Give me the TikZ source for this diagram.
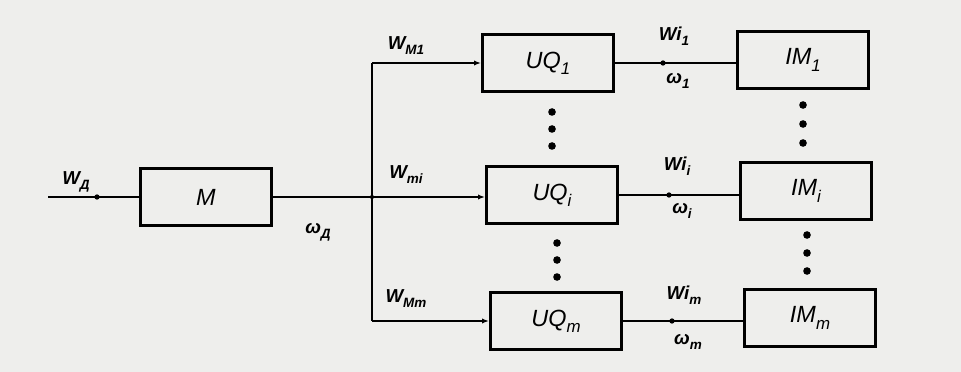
\documentclass[tikz,border=0pt]{standalone}
\usepackage{fontspec}
\setmainfont{Liberation Sans}
\usetikzlibrary{arrows.meta}
\definecolor{paper}{RGB}{238,238,236}
\newcommand{\lowidx}[1]{\raisebox{-0.5ex}{\scalebox{0.72}{#1}}}

\begin{document}
\begin{tikzpicture}[x=0.03cm,y=-0.03cm,font=\fontsize{16}{19}\selectfont\bfseries\itshape,
  >={Latex[length=6pt,width=4.5pt]},
  blockbox/.style={draw,line width=2.5pt,minimum width=3.93cm,minimum height=1.72cm,
    inner sep=0pt,font=\fontsize{20}{24}\selectfont\itshape},
  wire/.style={line width=1.5pt},
  tapdot/.style={circle,fill,inner sep=0pt,minimum size=4.5pt},
  gapdot/.style={circle,fill,inner sep=0pt,minimum size=6.5pt}]
\fill[paper] (0,0) rectangle (961,372);
\useasboundingbox (0,0) rectangle (961,372);
% blocks
\node[blockbox] (M) at (206,197) {M};
\node[blockbox] (UQ1) at (548,63) {UQ\lowidx{1}};
\node[blockbox] (UQi) at (552,195) {UQ\lowidx{i}};
\node[blockbox] (UQm) at (556,321) {UQ\lowidx{m}};
\node[blockbox] (IM1) at (803,60) {IM\lowidx{1}};
\node[blockbox] (IMi) at (806,191) {IM\lowidx{i}};
\node[blockbox] (IMm) at (810,318) {IM\lowidx{m}};
% input and bus
\coordinate (in) at (48,197);
\coordinate (bus) at (372,197);
\draw[wire] (in) -- (M.west);
\node[tapdot] (intap) at (97,197) {};
\draw[wire] (M.east) -- (bus);
\node[tapdot,minimum size=3.5pt] (busdot) at (bus) {};
\draw[wire] (bus |- UQ1.west) -- (bus |- UQm.west);
\draw[wire,->] (bus |- UQ1.west) -- (UQ1.west);
\draw[wire,->] (bus) -- (bus -| UQi.west);
\draw[wire,->] (bus |- UQm.west) -- (UQm.west);
% outputs
\foreach \r/\x in {1/663,i/669,m/672}{
  \draw[wire] (UQ\r.east) -- (UQ\r.east -| IM\r.west);
  \node[tapdot] (tap\r) at (UQ\r.east -| \x,0) {};
}
% dots between rows
\foreach \x/\y in {552/112,552/129,552/146,557/243,557/260,557/277,
                   803/105,803/124,803/143,807/235,807/253,807/271}
  \node[gapdot] at (\x,\y) {};
% labels
\node (lWD) at (76,182) {W\lowidx{Д}};
\node (lwD) at (318,232) {ω\lowidx{Д}};
\node (lWM1) at (406,46) {W\lowidx{M1}};
\node (lWmi) at (406,175) {W\lowidx{mi}};
\node (lWMm) at (406,299) {W\lowidx{Mm}};
\node (lWi1) at (674,36) {Wi\lowidx{1}};
\node (lw1) at (678,81) {ω\lowidx{1}};
\node (lWii) at (677,166) {Wi\lowidx{i}};
\node (lwi) at (682,211) {ω\lowidx{i}};
\node (lWim) at (684,295) {Wi\lowidx{m}};
\node (lwm) at (688,342) {ω\lowidx{m}};
\end{tikzpicture}
\end{document}
